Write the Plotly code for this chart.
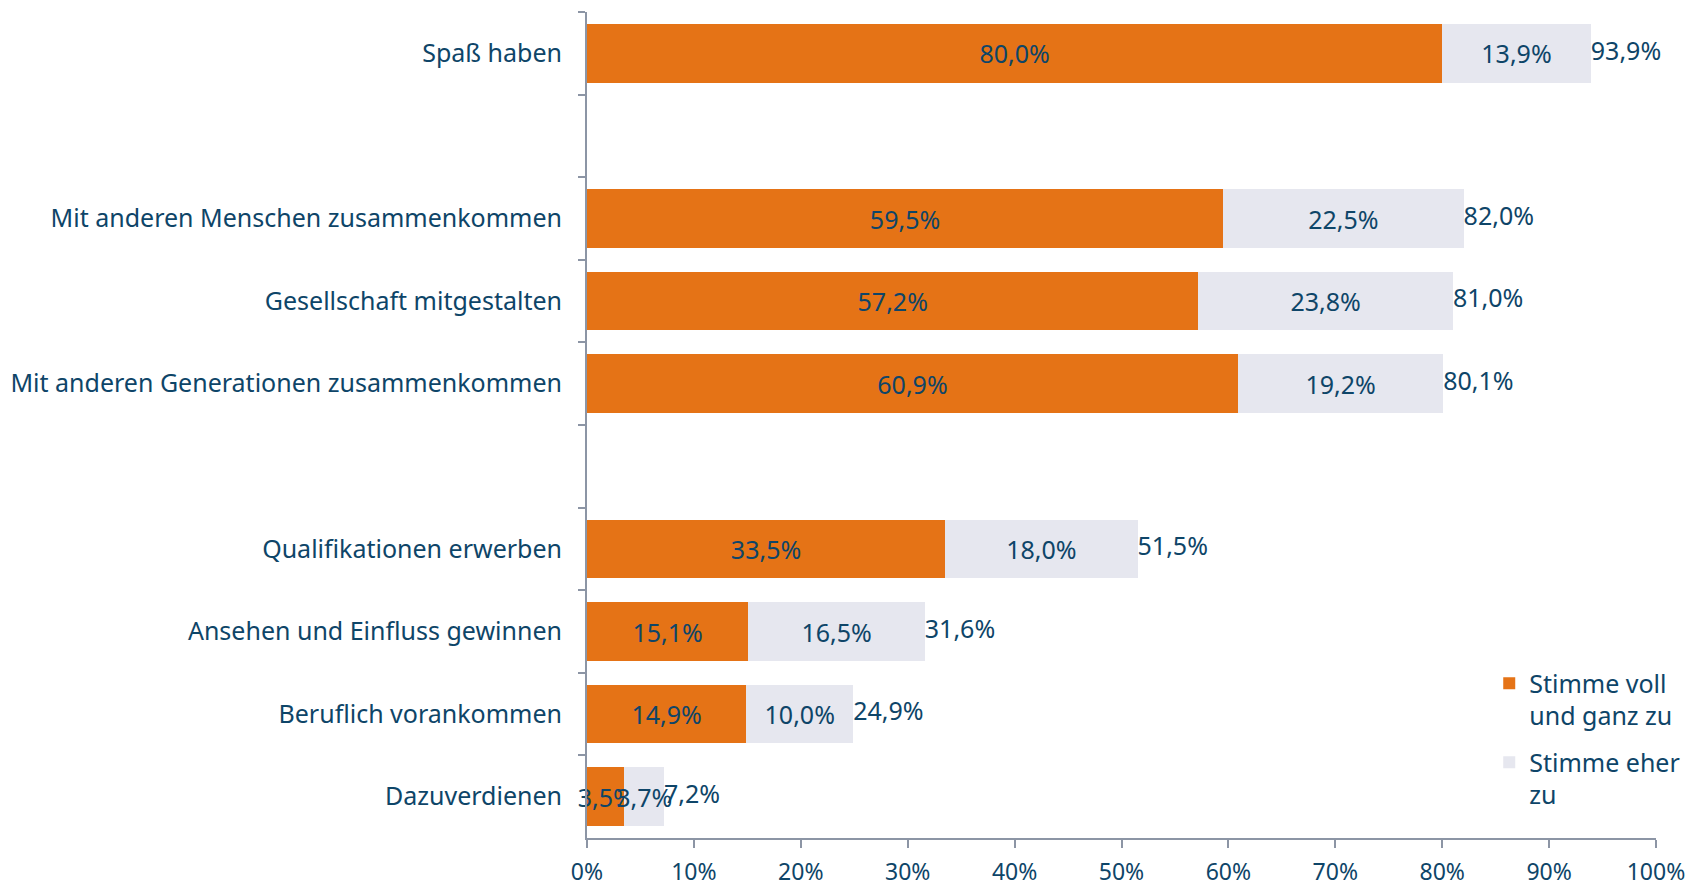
import plotly.graph_objects as go

categories = [
    "Spaß haben",
    " ",
    "Mit anderen Menschen zusammenkommen",
    "Gesellschaft mitgestalten",
    "Mit anderen Generationen zusammenkommen",
    "  ",
    "Qualifikationen erwerben",
    "Ansehen und Einfluss gewinnen",
    "Beruflich vorankommen",
    "Dazuverdienen",
]
voll = [80.0, None, 59.5, 57.2, 60.9, None, 33.5, 15.1, 14.9, 3.5]
eher = [13.9, None, 22.5, 23.8, 19.2, None, 18.0, 16.5, 10.0, 3.7]
gesamt = [93.9, None, 82.0, 81.0, 80.1, None, 51.5, 31.6, 24.9, 7.2]
series_names = ["Stimme voll<br>und ganz zu", "Stimme eher<br>zu"]
x_ticks = list(range(0, 101, 10))
x_tick_labels = [f"{v}%" for v in x_ticks]

ORANGE = "#E57316"
LIGHT = "#E6E7EF"
TEXT = "#0E4568"
AXIS = "#8C95A5"
FONT = "Noto Sans"

fig = go.Figure()
fig.add_trace(go.Bar(
    y=categories, x=voll, orientation="h", name=series_names[0],
    marker=dict(color=ORANGE, line=dict(width=0)),
    texttemplate="%{x:.1f}%", textposition="inside", insidetextanchor="middle",
    textangle=0, constraintext="none", cliponaxis=False,
    textfont=dict(family=FONT, size=25, color=TEXT), legendgroup="a",
))
fig.add_trace(go.Bar(
    y=categories, x=eher, orientation="h", name=series_names[1],
    marker=dict(color=LIGHT, line=dict(width=0)),
    texttemplate="%{x:.1f}%", textposition="inside", insidetextanchor="middle",
    textangle=0, constraintext="none", cliponaxis=False,
    textfont=dict(family=FONT, size=25, color=TEXT), legendgroup="b",
))
fig.add_trace(go.Scatter(
    y=categories, x=gesamt, mode="text",
    text=[("" if v is None else f"{v:.1f}%".replace(".", ",")) for v in gesamt],
    textposition="middle right", textfont=dict(family=FONT, size=25, color=TEXT),
    showlegend=False, cliponaxis=False, hoverinfo="skip",
))

fig.update_layout(
    barmode="stack", bargap=0.29,
    separators=",.",
    width=1696, height=874,
    margin=dict(l=579, r=48, t=4, b=44, autoexpand=False),
    paper_bgcolor="white", plot_bgcolor="white",
    font=dict(family=FONT, size=25, color=TEXT),
    legend=dict(
        x=0.844, y=0.215, xanchor="left", yanchor="top",
        bgcolor="rgba(0,0,0,0)", font=dict(family=FONT, size=25, color=TEXT),
        traceorder="grouped", tracegroupgap=11, valign="top", itemwidth=30,
    ),
    xaxis=dict(
        range=[0, 100], tickmode="array", tickvals=x_ticks, ticktext=x_tick_labels,
        showgrid=False, automargin=False,
        zeroline=False, showline=True, linecolor=AXIS, linewidth=2,
        ticks="outside", ticklen=8, tickwidth=2, tickcolor=AXIS,
        ticklabelstandoff=4,
        tickfont=dict(family=FONT, size=23, color=TEXT),
    ),
    yaxis=dict(
        type="category", categoryorder="array", categoryarray=categories,
        autorange="reversed", showgrid=False, zeroline=False, automargin=False,
        showline=True, linecolor=AXIS, linewidth=2,
        ticks="outside", ticklen=7, tickwidth=2, tickcolor=AXIS,
        tickson="boundaries", ticklabelstandoff=18,
        tickfont=dict(family=FONT, size=25, color=TEXT),
    ),
)

fig.write_html("out.html")
